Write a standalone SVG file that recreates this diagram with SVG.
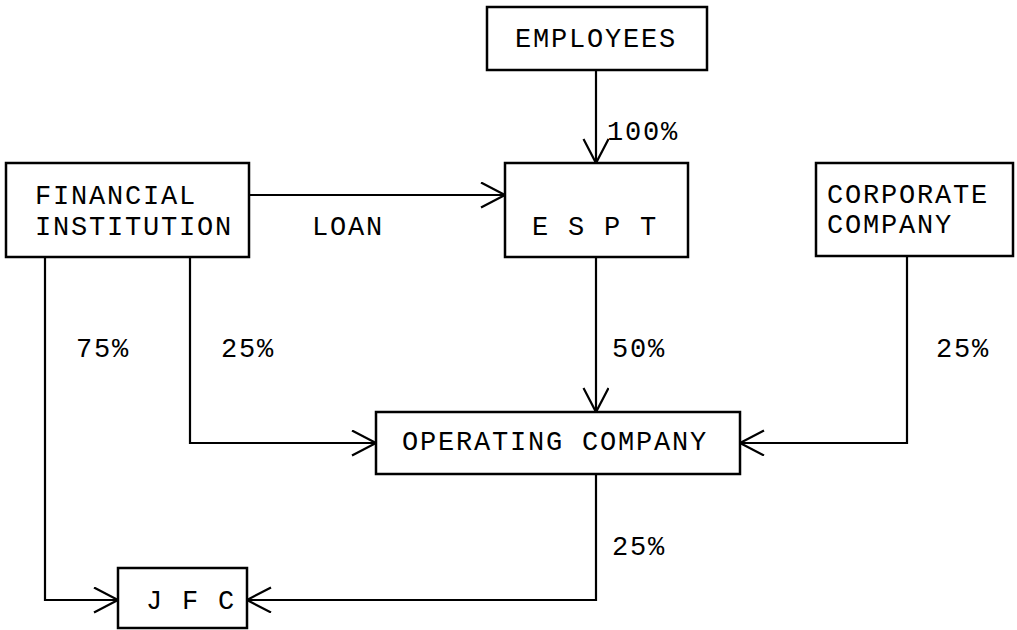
<svg xmlns="http://www.w3.org/2000/svg" width="1017" height="630" viewBox="0 0 1017 630">
<style>
.box{fill:#fff;stroke:#000;stroke-width:2.5}
.t{font-family:"Liberation Mono","Courier New",monospace;font-size:27px;letter-spacing:1.8px;fill:#000}
.c{fill:none;stroke:#000;stroke-width:2.2}
</style>
<defs>
<marker id="arr" markerUnits="userSpaceOnUse" markerWidth="30" markerHeight="30" refX="25" refY="13" orient="auto">
<path d="M1,0.5 L25,13 L1,25.5" fill="none" stroke="#000" stroke-width="2.2"/>
</marker>
</defs>
<rect width="1017" height="630" fill="#fff"/>
<g id="connectors">
<path class="c" d="M596,70 L596,163" marker-end="url(#arr)"/>
<path class="c" d="M249,195 L505,195" marker-end="url(#arr)"/>
<path class="c" d="M596,257 L596,412" marker-end="url(#arr)"/>
<path class="c" d="M190,257 L190,443 L376,443" marker-end="url(#arr)"/>
<path class="c" d="M907,256 L907,443 L740,443" marker-end="url(#arr)"/>
<path class="c" d="M45,257 L45,600 L118,600" marker-end="url(#arr)"/>
<path class="c" d="M596,474 L596,600 L247,600" marker-end="url(#arr)"/>
<text class="t" x="607" y="140">100%</text>
<text class="t" x="312" y="235">LOAN</text>
<text class="t" x="76" y="357">75%</text>
<text class="t" x="221" y="357">25%</text>
<text class="t" x="612" y="357">50%</text>
<text class="t" x="936" y="357">25%</text>
<text class="t" x="612" y="555">25%</text>
</g>
<g id="employees">
<rect class="box" x="487" y="7" width="220" height="63"/>
<text class="t" x="515" y="47">EMPLOYEES</text>
</g>
<g id="financial">
<rect class="box" x="6" y="163" width="243" height="94"/>
<text class="t" x="35" y="204">FINANCIAL</text>
<text class="t" x="35" y="235">INSTITUTION</text>
</g>
<g id="espt">
<rect class="box" x="505" y="163" width="183" height="94"/>
<text class="t" x="532" y="235">E S P T</text>
</g>
<g id="corporate">
<rect class="box" x="816" y="163" width="197" height="93"/>
<text class="t" x="827" y="203">CORPORATE</text>
<text class="t" x="827" y="233">COMPANY</text>
</g>
<g id="operating">
<rect class="box" x="376" y="412" width="364" height="62"/>
<text class="t" x="402" y="450">OPERATING COMPANY</text>
</g>
<g id="jfc">
<rect class="box" x="118" y="568" width="129" height="60"/>
<text class="t" x="146" y="609">J F C</text>
</g>
</svg>
